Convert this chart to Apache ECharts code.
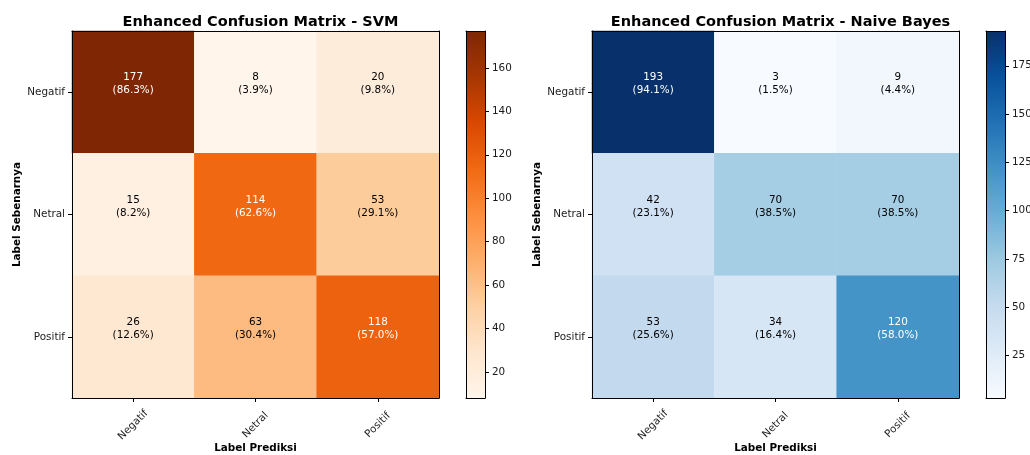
<!DOCTYPE html>
<html>
<head>
<meta charset="utf-8">
<script src="https://cdn.jsdelivr.net/npm/echarts@6/dist/echarts.min.js"></script>
<style>
  html, body { margin: 0; padding: 0; background: #fff; }
  #chart { width: 1030px; height: 455px; }
</style>
</head>
<body>
<div id="chart"></div>
<script>
// Class labels (rows = actual, columns = predicted)
const classes = ['Negatif', 'Netral', 'Positif'];

// Confusion matrix counts
const svmCounts = [
  [177, 8, 20],
  [15, 114, 53],
  [26, 63, 118]
];
const nbCounts = [
  [193, 3, 9],
  [42, 70, 70],
  [53, 34, 120]
];

// Colour bar tick labels
const svmBarTicks = [20, 40, 60, 80, 100, 120, 140, 160];
const nbBarTicks = [25, 50, 75, 100, 125, 150, 175];

// Sequential colour ramps
const orangesRamp = ['#fff5eb', '#fee6ce', '#fdd0a2', '#fdae6b', '#fd8d3c', '#f16913', '#d94801', '#a63603', '#7f2704'];
const bluesRamp = ['#f7fbff', '#deebf7', '#c6dbef', '#9ecae1', '#6baed6', '#4292c6', '#2171b5', '#08519c', '#08306b'];

const FONT = 'DejaVu Sans';
const INK = '#1a1a1a';
const FS = 10.4;

function cellData(counts) {
  const flat = counts.flat();
  const half = (Math.min(...flat) + Math.max(...flat)) / 2;
  const out = [];
  counts.forEach((row, r) => {
    const total = row.reduce((a, b) => a + b, 0);
    row.forEach((v, c) => {
      out.push({
        value: [c, r, v],
        pct: (v / total * 100).toFixed(1),
        label: { color: v > half ? '#ffffff' : '#000000' }
      });
    });
  });
  return out;
}

function range(counts) {
  const flat = counts.flat();
  return [Math.min(...flat), Math.max(...flat)];
}

const svmRange = range(svmCounts);
const nbRange = range(nbCounts);

const panels = [
  { title: 'Enhanced Confusion Matrix - SVM', left: 72, bar: 466, counts: svmCounts, ramp: orangesRamp, ext: svmRange, ticks: svmBarTicks },
  { title: 'Enhanced Confusion Matrix - Naive Bayes', left: 592, bar: 986, counts: nbCounts, ramp: bluesRamp, ext: nbRange, ticks: nbBarTicks }
];

const SIZE = 367, TOP = 31;

const option = {
  animation: false,
  backgroundColor: '#ffffff',
  textStyle: { fontFamily: FONT },
  title: [],
  grid: [],
  xAxis: [],
  yAxis: [],
  visualMap: [],
  series: []
};

panels.forEach((p, i) => {
  const g = i * 2;       // matrix grid index
  const cb = i * 2 + 1;  // colour bar grid index

  option.title.push({
    text: p.title,
    left: p.left + SIZE / 2,
    top: 10,
    textAlign: 'center',
    textStyle: { fontFamily: FONT, fontSize: 14.5, fontWeight: 'bold', color: '#000' }
  });

  option.grid.push({ left: p.left, top: TOP, width: SIZE, height: SIZE, outerBoundsMode: 'none', containLabel: false });
  option.grid.push({ left: p.bar, top: TOP, width: 19, height: SIZE, outerBoundsMode: 'none', containLabel: false });

  const xi = option.xAxis.length;
  option.xAxis.push({
    type: 'category', data: classes, gridIndex: g, position: 'bottom', z: 5,
    name: 'Label Prediksi', nameLocation: 'middle', nameGap: 45, nameMoveOverlap: false,
    nameTextStyle: { fontFamily: FONT, fontSize: FS, fontWeight: 'bold', color: '#000' },
    axisLine: { show: true, lineStyle: { color: '#000', width: 1 } },
    axisTick: { show: true, alignWithLabel: true, length: 4, lineStyle: { color: '#000' } },
    axisLabel: { rotate: 45, align: 'center', verticalAlign: 'middle', margin: 27, fontFamily: FONT, fontSize: FS, color: INK },
    splitLine: { show: false }
  });
  option.xAxis.push({
    type: 'category', data: classes, gridIndex: g, position: 'top', z: 5,
    axisLine: { show: true, lineStyle: { color: '#000', width: 1 } },
    axisTick: { show: false }, axisLabel: { show: false }, splitLine: { show: false }
  });
  const yi = option.yAxis.length;
  option.yAxis.push({
    type: 'category', data: classes, gridIndex: g, inverse: true, position: 'left', z: 5,
    name: 'Label Sebenarnya', nameLocation: 'middle', nameGap: 50, nameRotate: 90, nameMoveOverlap: false,
    nameTextStyle: { fontFamily: FONT, fontSize: FS, fontWeight: 'bold', color: '#000' },
    axisLine: { show: true, lineStyle: { color: '#000', width: 1 } },
    axisTick: { show: true, alignWithLabel: true, length: 4, lineStyle: { color: '#000' } },
    axisLabel: { margin: 7, fontFamily: FONT, fontSize: FS, color: INK },
    splitLine: { show: false }
  });
  option.yAxis.push({
    type: 'category', data: classes, gridIndex: g, inverse: true, position: 'right', z: 5,
    axisLine: { show: true, lineStyle: { color: '#000', width: 1 } },
    axisTick: { show: false }, axisLabel: { show: false }, splitLine: { show: false }
  });

  // colour bar axes
  const cxi = option.xAxis.length;
  option.xAxis.push({
    type: 'category', data: [''], gridIndex: cb, z: 5,
    axisLine: { show: true, lineStyle: { color: '#000', width: 1 } },
    axisTick: { show: false }, axisLabel: { show: false }, splitLine: { show: false }
  });
  option.xAxis.push({
    type: 'category', data: [''], gridIndex: cb, position: 'top', z: 5,
    axisLine: { show: true, lineStyle: { color: '#000', width: 1 } },
    axisTick: { show: false }, axisLabel: { show: false }, splitLine: { show: false }
  });
  const cyi = option.yAxis.length;
  option.yAxis.push({
    type: 'value', gridIndex: cb, position: 'right', min: p.ext[0], max: p.ext[1], z: 5,
    axisLine: { show: true, lineStyle: { color: '#000', width: 1 } },
    axisTick: { show: true, length: 4, customValues: p.ticks, lineStyle: { color: '#000' } },
    axisLabel: { margin: 7, customValues: p.ticks, fontFamily: FONT, fontSize: FS, color: INK },
    splitLine: { show: false }
  });
  option.yAxis.push({
    type: 'value', gridIndex: cb, position: 'left', min: p.ext[0], max: p.ext[1], z: 5,
    axisLine: { show: true, lineStyle: { color: '#000', width: 1 } },
    axisTick: { show: false }, axisLabel: { show: false }, splitLine: { show: false }
  });

  const si = option.series.length;
  option.series.push({
    type: 'heatmap', xAxisIndex: xi, yAxisIndex: yi,
    data: cellData(p.counts),
    itemStyle: { borderWidth: 0 },
    label: {
      show: true, fontFamily: FONT, fontSize: FS, lineHeight: 13, offset: [0, -8],
      formatter: (d) => d.data.value[2] + '\n(' + d.data.pct + '%)'
    },
    emphasis: { disabled: true }
  });

  option.visualMap.push({
    show: false, type: 'continuous', seriesIndex: si, dimension: 2,
    min: p.ext[0], max: p.ext[1], inRange: { color: p.ramp }
  });

  // colour bar: transparent base up to the minimum, gradient span above it
  const stops = p.ramp.slice().reverse().map((c, k, arr) => ({ offset: k / (arr.length - 1), color: c }));
  option.series.push({
    type: 'bar', xAxisIndex: cxi, yAxisIndex: cyi, stack: 'cb' + i, barWidth: '100%',
    data: [p.ext[0]], itemStyle: { color: 'rgba(0,0,0,0)' }, silent: true
  });
  option.series.push({
    type: 'bar', xAxisIndex: cxi, yAxisIndex: cyi, stack: 'cb' + i, barWidth: '100%',
    data: [p.ext[1] - p.ext[0]], silent: true,
    itemStyle: { color: new echarts.graphic.LinearGradient(0, 0, 0, 1, stops) }
  });
});

const chart = echarts.init(document.getElementById('chart'), null, { renderer: 'canvas' });
chart.setOption(option);
</script>
</body>
</html>
